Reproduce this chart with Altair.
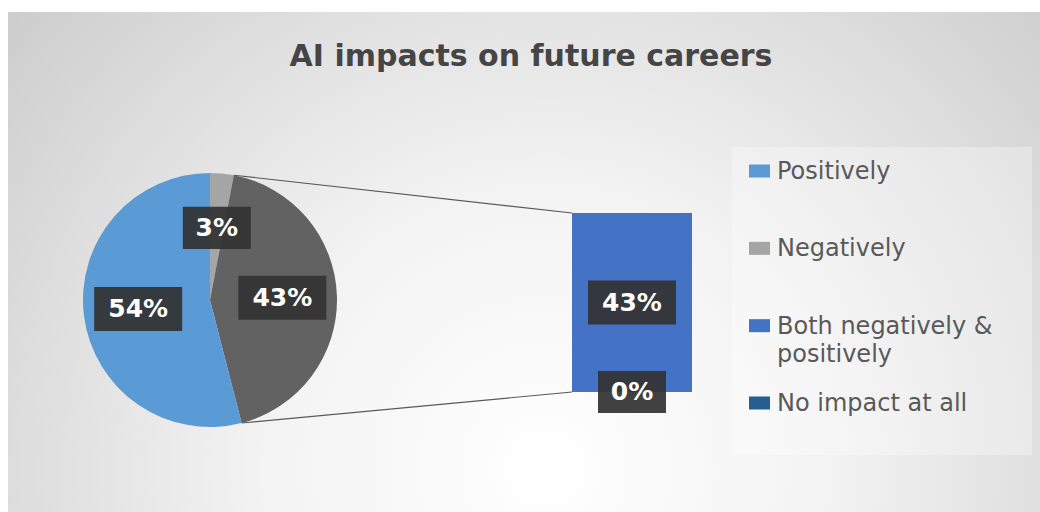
import math
import altair as alt
import pandas as pd

# ---------------- data ----------------
TITLE = "AI impacts on future careers"
categories = ["Positively", "Negatively", "Both negatively & positively", "No impact at all"]
shares = [54, 3, 43, 0]
cat_colors = ["#5B9BD5", "#A5A5A5", "#4472C4", "#255E91"]
OTHER = "Other"
other_color = "#626262"
# categories split off into the secondary bar
bar_members = ["Both negatively & positively", "No impact at all"]

# ---------------- layout / style ----------------
W, H = 1040, 512
CX, CY, R = 210, 300, 127
LABEL_R = 0.57 * R
BAR_L, BAR_R, BAR_T, BAR_B = 572, 692, 213, 392
FONT = "DejaVu Sans"

share = dict(zip(categories, shares))
pie_names = ["Negatively", OTHER, "Positively"]  # clockwise from 12 o'clock
pie_values = [share["Negatively"], sum(share[c] for c in bar_members), share["Positively"]]
pie_df = pd.DataFrame({"slice": pie_names, "value": pie_values, "order": list(range(len(pie_names)))})

bar_names = ["No impact at all", "Both negatively & positively"]  # bottom to top
bar_df = pd.DataFrame({"cat": bar_names, "value": [share[c] for c in bar_names],
                       "order": list(range(len(bar_names)))})
legend_df = pd.DataFrame({"cat": categories})

color_scale = alt.Scale(domain=categories + [OTHER], range=cat_colors + [other_color])
xs = alt.Scale(domain=[0, W], range=[0, W], nice=False, zero=False)
ys = alt.Scale(domain=[0, H], range=[0, H], nice=False, zero=False)
one = pd.DataFrame({"a": [0]})

BOX_EXPR_SHAPE = "length(datum.label) > 2 ? 'M-1,-0.5H1V0.5H-1Z' : 'M-1,-0.62H1V0.62H-1Z'"
BOX_EXPR_SIZE = "length(datum.label) > 2 ? 7744 : 4624"

# ---------------- background ----------------
bg = alt.Chart(one).mark_rect(
    fill={"gradient": "radial",
          "stops": [{"offset": 0, "color": "#ffffff"}, {"offset": 0.35, "color": "#f3f3f3"},
                    {"offset": 1, "color": "#c4c4c4"}],
          "x1": 0.52, "y1": 0.7, "x2": 0.52, "y2": 0.7, "r1": 0, "r2": 0.78}
).encode(x=alt.value(8), x2=alt.value(W), y=alt.value(12), y2=alt.value(H))

legend_bg = alt.Chart(one).mark_rect(fill="#ffffff", opacity=0.3).encode(
    x=alt.value(732), x2=alt.value(1032), y=alt.value(147), y2=alt.value(455))

title = alt.Chart(one).mark_text(
    text=TITLE, font=FONT, fontSize=30, fontWeight="bold", color="#454545",
    baseline="alphabetic", align="center"
).encode(x=alt.value(531), y=alt.value(66))

# ---------------- pie ----------------
pie = alt.Chart(pie_df).mark_arc(outerRadius=R, strokeWidth=0).encode(
    theta=alt.Theta("value:Q", stack=True),
    order=alt.Order("order:Q"),
    color=alt.Color("slice:N", scale=color_scale, legend=None),
    x=alt.value(CX), y=alt.value(CY),
)

pie_base = alt.Chart(pie_df).transform_joinaggregate(
    total="sum(value)"
).transform_window(
    cum="sum(value)", sort=[alt.SortField("order")], frame=[None, 0]
).transform_calculate(
    mid=f"(datum.cum - datum.value / 2) / datum.total * 2 * PI",
    lx=f"{CX} + {LABEL_R} * sin(datum.mid)",
    ly=f"{CY} - {LABEL_R} * cos(datum.mid)",
    label="datum.value + '%'",
    bshape=BOX_EXPR_SHAPE,
    bsize=BOX_EXPR_SIZE,
)

pie_boxes = pie_base.mark_point(filled=True, fill="#333333", opacity=0.93, strokeWidth=0).encode(
    x=alt.X("lx:Q", scale=xs, axis=None),
    y=alt.Y("ly:Q", scale=ys, axis=None),
    shape=alt.Shape("bshape:N", scale=None),
    size=alt.Size("bsize:Q", scale=None),
)
pie_text = pie_base.mark_text(font=FONT, fontWeight="bold", fontSize=25, color="#ffffff",
                              baseline="middle", align="center").encode(
    x=alt.X("lx:Q", scale=xs, axis=None),
    y=alt.Y("ly:Q", scale=ys, axis=None),
    text="label:N",
)

connectors = alt.Chart(pie_df).transform_joinaggregate(
    total="sum(value)"
).transform_window(
    cum="sum(value)", sort=[alt.SortField("order")], frame=[None, 0]
).transform_filter(
    alt.datum.slice == OTHER
).transform_calculate(
    a0="(datum.cum - datum.value) / datum.total * 2 * PI",
    a1="datum.cum / datum.total * 2 * PI",
    pos="['top', 'bottom']",
).transform_flatten(["pos"]).transform_calculate(
    ang="datum.pos == 'top' ? datum.a0 : datum.a1",
    sx=f"{CX} + {R} * sin(datum.ang)",
    sy=f"{CY} - {R} * cos(datum.ang)",
    ex=f"{BAR_L}",
    ey=f"datum.pos == 'top' ? {BAR_T} : {BAR_B}",
).mark_rule(color="#595959", strokeWidth=1.2).encode(
    x=alt.X("sx:Q", scale=xs, axis=None),
    y=alt.Y("sy:Q", scale=ys, axis=None),
    x2="ex:Q",
    y2="ey:Q",
)

pie_group = alt.layer(pie, connectors, pie_boxes, pie_text)

# ---------------- bar of pie ----------------
bar_y = alt.Scale(domain=[0, float(bar_df["value"].sum())], range=[BAR_B, BAR_T], nice=False, zero=True)
bar_base = alt.Chart(bar_df).transform_stack(
    stack="value", as_=["y0", "y1"], groupby=[], sort=[alt.SortField("order")]
).transform_calculate(
    ymid="(datum.y0 + datum.y1) / 2",
    label="datum.value + '%'",
    bshape=BOX_EXPR_SHAPE,
    bsize=BOX_EXPR_SIZE,
)
bar = bar_base.mark_rect(strokeWidth=0).encode(
    x=alt.value(BAR_L), x2=alt.value(BAR_R),
    y=alt.Y("y0:Q", scale=bar_y, axis=None), y2="y1:Q",
    color=alt.Color("cat:N", scale=color_scale, legend=None),
)
bar_boxes = bar_base.mark_point(filled=True, fill="#333333", opacity=0.93, strokeWidth=0).encode(
    x=alt.value((BAR_L + BAR_R) / 2),
    y=alt.Y("ymid:Q", scale=bar_y, axis=None),
    shape=alt.Shape("bshape:N", scale=None),
    size=alt.Size("bsize:Q", scale=None),
)
bar_text = bar_base.mark_text(font=FONT, fontWeight="bold", fontSize=25, color="#ffffff",
                              baseline="middle", align="center").encode(
    x=alt.value((BAR_L + BAR_R) / 2),
    y=alt.Y("ymid:Q", scale=bar_y, axis=None),
    text="label:N",
)
bar_group = alt.layer(bar, bar_boxes, bar_text)

# ---------------- legend ----------------
leg_y = alt.Scale(type="point", domain=categories, range=[171, 403], padding=0)
leg_sym = alt.Chart(legend_df).mark_point(
    shape="M-1,-0.62H1V0.62H-1Z", size=441, filled=True, opacity=1, strokeWidth=0
).encode(
    x=alt.value(759.5),
    y=alt.Y("cat:N", scale=leg_y, axis=None),
    color=alt.Color("cat:N", scale=color_scale, legend=None),
)
leg_txt = alt.Chart(legend_df).transform_calculate(
    disp="replace(datum.cat, '& ', '&\\n')"
).mark_text(
    font=FONT, fontSize=24, color="#595959", align="left", baseline="alphabetic",
    dy=8, lineBreak="\n", lineHeight=28,
).encode(
    x=alt.value(777),
    y=alt.Y("cat:N", scale=leg_y, axis=None),
    text="disp:N",
)
legend_group = alt.layer(leg_sym, leg_txt)

chart = alt.layer(
    bg, legend_bg, title, pie_group, bar_group, legend_group
).resolve_scale(
    y="independent", x="independent", color="shared", shape="independent", size="independent"
).properties(
    width=W, height=H, padding=0, autosize=alt.AutoSizeParams(type="none"),
    background="#ffffff",
).configure_view(stroke=None)

chart.save("out.html", embed_options={"renderer": "svg", "actions": False})
